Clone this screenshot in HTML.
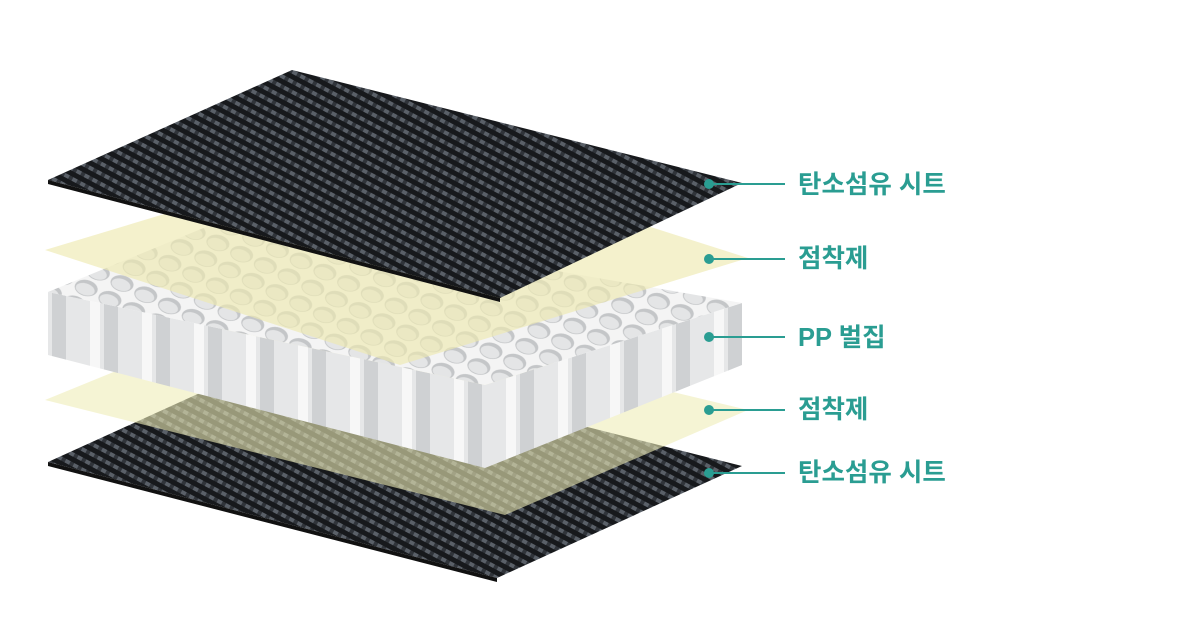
<!DOCTYPE html>
<html><head><meta charset="utf-8"><style>
body{margin:0;background:#fff;width:1200px;height:628px;overflow:hidden}
svg{display:block}
text{font-family:"Liberation Sans","Noto Sans CJK KR",sans-serif;font-weight:bold;fill:#2a9d92;font-size:25.5px}
</style></head><body>
<svg width="1200" height="628" viewBox="0 0 1200 628">
<defs>
<pattern id="cf" width="9" height="9" patternUnits="userSpaceOnUse" patternTransform="rotate(-62)">
<rect width="9" height="9" fill="#17191c"/>
<rect width="4" height="9" fill="#5a6068"/>
<rect x="0" y="0" width="4" height="4" fill="#30343a"/>
</pattern>
<pattern id="hc" width="30" height="17" patternUnits="userSpaceOnUse" patternTransform="skewX(-20) rotate(22)">
<rect width="30" height="17" fill="#f4f4f4"/>
<ellipse cx="15" cy="8.5" rx="13" ry="7.2" fill="#c4c6c8"/>
<ellipse cx="15" cy="9.8" rx="11" ry="5.2" fill="#e4e5e6"/>
</pattern>
<pattern id="wall" width="52" height="10" patternUnits="userSpaceOnUse">
<rect width="52" height="10" fill="#e6e7e8"/>
<rect x="0" width="14" height="10" fill="#cfd1d3"/>
<rect x="38" width="10" height="10" fill="#f7f7f7"/>
</pattern>
</defs>
<polygon points="48,462 290,352 742,466 497,578" fill="url(#cf)"/>
<polygon points="48,462 497,578 497,582 48,466" fill="#111"/>
<polygon points="45,400 290,300 748,410 505,515" fill="#eeecb8" opacity="0.6"/>
<polygon points="48,292 48,355 485,468 485,385" fill="url(#wall)"/>
<polygon points="485,385 742,303 742,365 485,468" fill="url(#wall)"/>
<polygon points="48,292 235,215 742,303 485,385" fill="url(#hc)"/>
<polygon points="45,250 393,145 748,258 400,365" fill="#eeeab0" opacity="0.65"/>
<polygon points="48,180 292,70 742,183 500,298" fill="url(#cf)"/>
<polygon points="48,180 500,298 500,302 48,184" fill="#111"/>
<g stroke="#2a9d92" stroke-width="2">
<line x1="709" y1="184" x2="785" y2="184"/>
<line x1="709" y1="259" x2="785" y2="259"/>
<line x1="709" y1="337" x2="785" y2="337"/>
<line x1="709" y1="410" x2="785" y2="410"/>
<line x1="709" y1="473" x2="785" y2="473"/>
</g>
<g fill="#2a9d92">
<circle cx="709" cy="184" r="5"/><circle cx="709" cy="259" r="5"/><circle cx="709" cy="337" r="5"/><circle cx="709" cy="410" r="5"/><circle cx="709" cy="473" r="5"/>
</g>
<text x="798" y="193">탄소섬유 시트</text>
<text x="798" y="267">점착제</text>
<text x="798" y="346">PP 벌집</text>
<text x="798" y="418">점착제</text>
<text x="798" y="481">탄소섬유 시트</text>
</svg>
</body></html>
